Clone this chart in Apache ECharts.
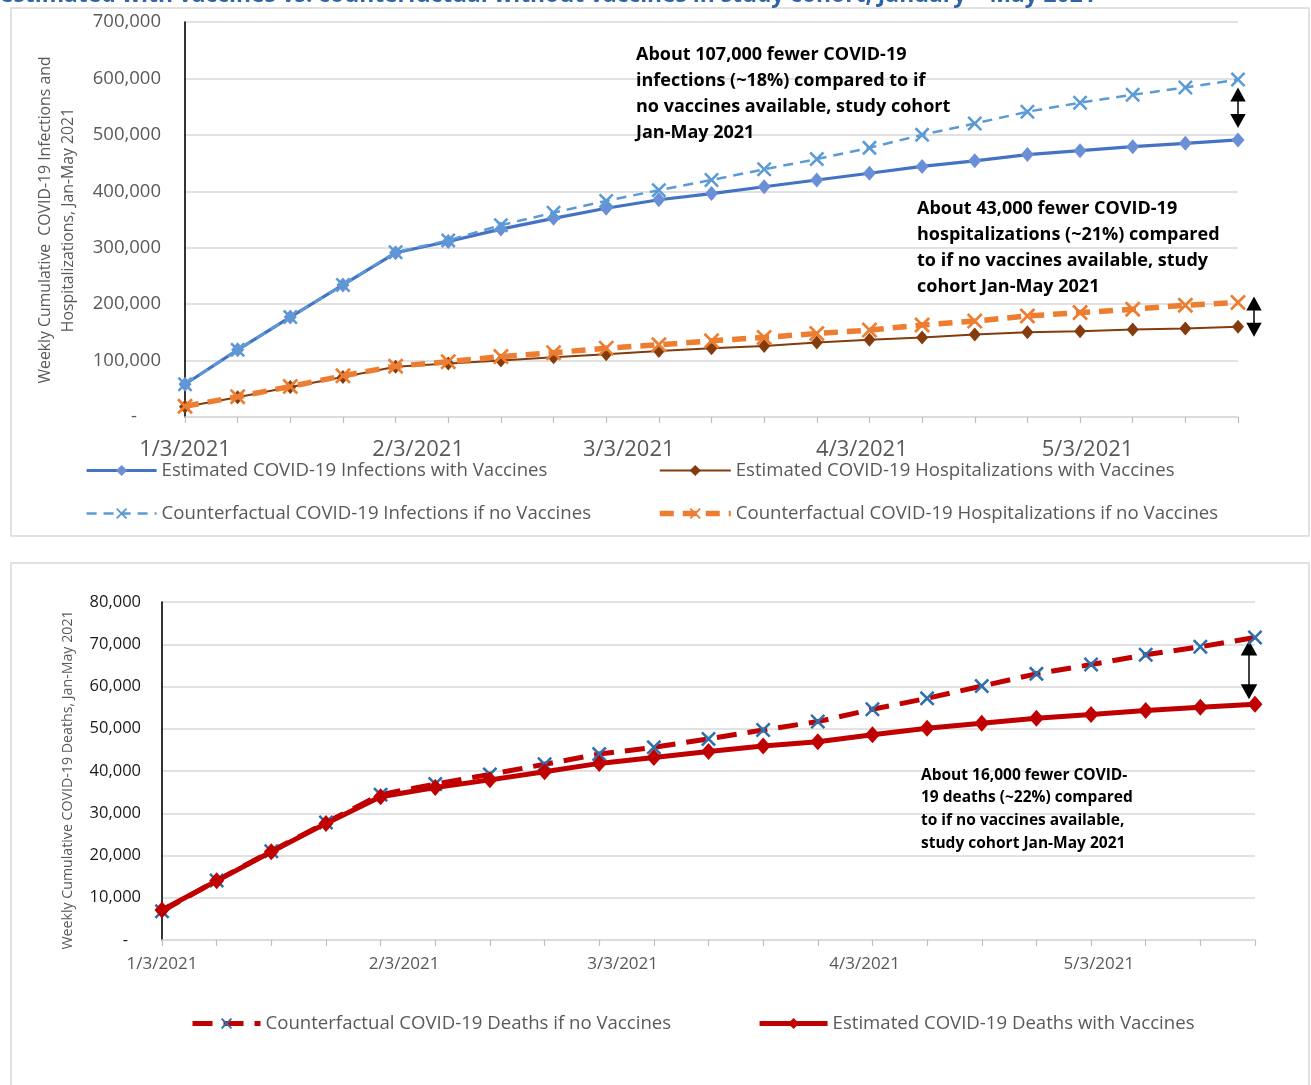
<!DOCTYPE html>
<html>
<head>
<meta charset="utf-8">
<script src="https://cdn.jsdelivr.net/npm/echarts@6/dist/echarts.min.js"></script>
<style>
  html, body { margin: 0; padding: 0; background: #ffffff; }
  #chart { width: 1311px; height: 1085px; }
</style>
</head>
<body>
<div id="chart"></div>
<script>
// Weekly dates of the study period
const weeks = ['2021-01-03','2021-01-10','2021-01-17','2021-01-24','2021-01-31','2021-02-07','2021-02-14',
  '2021-02-21','2021-02-28','2021-03-07','2021-03-14','2021-03-21','2021-03-28','2021-04-04',
  '2021-04-11','2021-04-18','2021-04-25','2021-05-02','2021-05-09','2021-05-16','2021-05-23'];
// Dates shown as axis labels
const monthLabels = ['2021-01-03','2021-02-03','2021-03-03','2021-04-03','2021-05-03'];

// Weekly cumulative infections / hospitalizations
const estInfections = [58000,119000,177000,234000,291000,311000,333000,352000,370000,385000,396000,
  408000,420000,432000,444000,454000,465000,472000,479000,485000,491000];
const cfInfections = [58000,119000,177000,234000,292000,313000,340000,362000,383000,402000,420000,
  439000,457000,477000,500000,520000,541000,557000,571000,584000,598000];
const estHosp = [18000,35000,53000,71000,89000,95000,100000,106000,111000,117000,122000,
  126000,132000,137000,141000,146000,150000,152000,155000,157000,160000];
const cfHosp = [19000,36000,54000,73000,90000,98000,107000,114000,122000,128000,135000,
  141000,148000,154000,163000,170000,179000,185000,191000,198000,203000];

// Weekly cumulative deaths
const cfDeaths = [6800,14100,21000,27800,34400,36900,39200,41600,44000,45600,47600,
  49700,51700,54600,57200,60100,63000,65200,67500,69400,71600];
const estDeaths = [7100,14000,20900,27600,33900,36100,37900,39800,41800,43200,44600,
  45900,46900,48600,50100,51300,52500,53400,54300,55100,55800];

// Tick labels
const yTicksTop = [0,100000,200000,300000,400000,500000,600000,700000];
const yTicksBottom = [0,10000,20000,30000,40000,50000,60000,70000,80000];

// Dates are placed on a day axis counted from the first week
const DAY = 86400000;
const toUTC = s => { const p = s.split('-').map(Number); return Date.UTC(p[0], p[1]-1, p[2]); };
const t0 = toUTC(weeks[0]);
const dayOf = s => Math.round((toUTC(s) - t0) / DAY);
const pairs = vals => weeks.map((d, i) => [dayOf(d), vals[i]]);
const fmtDay = v => { const d = new Date(t0 + v * DAY); return (d.getUTCMonth()+1) + '/' + d.getUTCDate() + '/' + d.getUTCFullYear(); };

const FONT = '"Open Sans", "Noto Sans", sans-serif';
const GREY = '#595959';
const GRID = '#d9d9d9';
const xSymbol = 'path://M0,1.2L1.2,0L5,3.8L8.8,0L10,1.2L6.2,5L10,8.8L8.8,10L5,6.2L1.2,10L0,8.8L3.8,5Z';

const weekDays = weeks.map(dayOf);
const labelDays = monthLabels.map(dayOf);

function xAxisDef(gridIndex, fontSize, margin) {
  return {
    type: 'value', gridIndex,
    min: weekDays[0], max: weekDays[weekDays.length - 1], interval: 7,
    axisLine: { show: true, onZero: false, lineStyle: { color: GRID, width: 1.5 } },
    axisTick: { show: true, customValues: weekDays, length: 6, lineStyle: { color: '#bfbfbf', width: 1.2 } },
    axisLabel: { customValues: labelDays, formatter: fmtDay, fontSize, color: GREY, fontFamily: FONT, margin,
      showMinLabel: true, showMaxLabel: true, hideOverlap: false },
    splitLine: { show: false }
  };
}
function yAxisDef(gridIndex, ticks, fontSize, color, margin, zero) {
  return {
    type: 'value', gridIndex, min: ticks[0], max: ticks[ticks.length - 1], interval: ticks[1] - ticks[0],
    axisLine: { show: true, onZero: false, lineStyle: { color: '#000', width: 1.6 } },
    axisTick: { show: false },
    axisLabel: { fontSize, color, fontFamily: FONT, margin,
      formatter: v => v === 0 ? zero : v.toLocaleString('en-US') },
    splitLine: { show: true, lineStyle: { color: GRID, width: 1.5 } }
  };
}

const legendText = { fontSize: 18.6, color: GREY, fontFamily: FONT };
const legendBase = { itemHeight: 14, textStyle: legendText, padding: 0,
  lineStyle: { width: 'inherit' }, itemStyle: { borderWidth: 0 } };

const option = {
  backgroundColor: '#ffffff',
  animation: false,
  grid: [
    { left: 185, top: 22, width: 1053, height: 395 },
    { left: 162, top: 602, width: 1093, height: 338 }
  ],
  xAxis: [ xAxisDef(0, 22, 22), xAxisDef(1, 17, 16) ],
  yAxis: [
    yAxisDef(0, yTicksTop, 18.5, GREY, 24, '-     '),
    yAxisDef(1, yTicksBottom, 16.5, '#1a1a1a', 21, '-   ')
  ],
  legend: [
    Object.assign({ orient: 'vertical', left: 85, top: 461, itemWidth: 70, itemGap: 24,
      data: ['Estimated COVID-19 Infections with Vaccines', 'Counterfactual COVID-19 Infections if no Vaccines'] }, legendBase),
    Object.assign({ orient: 'vertical', left: 657, top: 461, itemWidth: 71, itemGap: 24,
      data: ['Estimated COVID-19 Hospitalizations with Vaccines', 'Counterfactual COVID-19 Hospitalizations if no Vaccines'] }, legendBase),
    Object.assign({ orient: 'horizontal', left: 190, top: 1014, itemWidth: 68, itemGap: 86,
      data: ['Counterfactual COVID-19 Deaths if no Vaccines', 'Estimated COVID-19 Deaths with Vaccines'] }, legendBase)
  ],
  series: [
    { name: 'Estimated COVID-19 Infections with Vaccines', type: 'line', xAxisIndex: 0, yAxisIndex: 0,
      data: pairs(estInfections), symbol: 'diamond', symbolSize: [13, 15],
      lineStyle: { color: '#4472c4', width: 3.2 }, itemStyle: { color: '#6b8fd6' }, z: 2 },
    { name: 'Estimated COVID-19 Hospitalizations with Vaccines', type: 'line', xAxisIndex: 0, yAxisIndex: 0,
      data: pairs(estHosp), symbol: 'diamond', symbolSize: [12, 14],
      lineStyle: { color: '#843c0c', width: 2 }, itemStyle: { color: '#843c0c' }, z: 3 },
    { name: 'Counterfactual COVID-19 Infections if no Vaccines', type: 'line', xAxisIndex: 0, yAxisIndex: 0,
      data: pairs(cfInfections), symbol: xSymbol, symbolSize: 15,
      lineStyle: { color: '#5b9bd5', width: 2.5, type: [10, 7] }, itemStyle: { color: '#5b9bd5' }, z: 4 },
    { name: 'Counterfactual COVID-19 Hospitalizations if no Vaccines', type: 'line', xAxisIndex: 0, yAxisIndex: 0,
      data: pairs(cfHosp), symbol: xSymbol, symbolSize: 16,
      lineStyle: { color: '#ed7d31', width: 5.5, type: [14, 9] }, itemStyle: { color: '#ed7d31' }, z: 5 },
    { name: 'Counterfactual COVID-19 Deaths if no Vaccines', type: 'line', xAxisIndex: 1, yAxisIndex: 1,
      data: pairs(cfDeaths), symbol: xSymbol, symbolSize: 15,
      lineStyle: { color: '#c00000', width: 5, type: [20, 11] }, itemStyle: { color: '#2e6fae' }, z: 2 },
    { name: 'Estimated COVID-19 Deaths with Vaccines', type: 'line', xAxisIndex: 1, yAxisIndex: 1,
      data: pairs(estDeaths), symbol: 'diamond', symbolSize: [15, 17],
      lineStyle: { color: '#c00000', width: 5 }, itemStyle: { color: '#c00000' }, z: 3 }
  ]
};

const chart = echarts.init(document.getElementById('chart'), null, { renderer: 'canvas' });
chart.setOption(option);

// Double-headed arrow between two pixel y-positions
function arrow(x, y1, y2, head) {
  const w = head * 0.55;
  return {
    type: 'group', z: 50,
    children: [
      { type: 'line', shape: { x1: x, y1: y1 + head * 0.8, x2: x, y2: y2 - head * 0.8 },
        style: { stroke: '#000', lineWidth: 1.5 } },
      { type: 'polygon', shape: { points: [[x, y1], [x - w, y1 + head], [x + w, y1 + head]] }, style: { fill: '#000' } },
      { type: 'polygon', shape: { points: [[x, y2], [x - w, y2 - head], [x + w, y2 - head]] }, style: { fill: '#000' } }
    ]
  };
}

const last = weeks.length - 1;
const lastX = weekDays[last];
const pInfCf = chart.convertToPixel({ gridIndex: 0 }, [lastX, cfInfections[last]]);
const pInfEst = chart.convertToPixel({ gridIndex: 0 }, [lastX, estInfections[last]]);
const pHospCf = chart.convertToPixel({ gridIndex: 0 }, [lastX, cfHosp[last]]);
const pHospEst = chart.convertToPixel({ gridIndex: 0 }, [lastX, estHosp[last]]);
const pDCf = chart.convertToPixel({ gridIndex: 1 }, [lastX, cfDeaths[last]]);
const pDEst = chart.convertToPixel({ gridIndex: 1 }, [lastX, estDeaths[last]]);

const boldText = (x, y, text, size, lh) => ({
  type: 'text', x, y, z: 40,
  style: { text, fontFamily: FONT, fontWeight: 'bold', fontSize: size, lineHeight: lh, fill: '#000' }
});

chart.setOption({
  graphic: [
    // panel frames
    { type: 'rect', shape: { x: 11, y: 8, width: 1298, height: 528 }, style: { fill: 'none', stroke: GRID, lineWidth: 1.5 }, z: -10 },
    { type: 'rect', shape: { x: 11, y: 563, width: 1298, height: 560 }, style: { fill: 'none', stroke: GRID, lineWidth: 1.5 }, z: -10 },
    // heading above the first panel
    { type: 'text', x: 0, y: 7, z: 40,
      style: { text: 'estimated with vaccines vs. counterfactual without vaccines in study cohort, January \u2013 May 2021',
        fontFamily: FONT, fontWeight: 'bold', fontSize: 22.8, fill: '#2f64a8', verticalAlign: 'bottom' } },
    // axis titles
    { type: 'text', x: 57, y: 220, rotation: Math.PI / 2, z: 40,
      style: { text: 'Weekly Cumulative  COVID-19 Infections and\nHospitalizations, Jan-May 2021',
        fontFamily: FONT, fontSize: 15.8, lineHeight: 23, fill: GREY, align: 'center', verticalAlign: 'middle' } },
    { type: 'text', x: 68, y: 780, rotation: Math.PI / 2, z: 40,
      style: { text: 'Weekly Cumulative COVID-19 Deaths, Jan-May 2021',
        fontFamily: FONT, fontSize: 14.2, fill: GREY, align: 'center', verticalAlign: 'middle' } },
    // annotations
    boldText(636, 42, 'About 107,000 fewer COVID-19\ninfections (~18%) compared to if\nno vaccines available, study cohort\nJan-May 2021', 18, 26),
    boldText(917, 196, 'About 43,000 fewer COVID-19\nhospitalizations (~21%) compared\nto if no vaccines available, study\ncohort Jan-May 2021', 18, 26),
    boldText(921, 764, 'About 16,000 fewer COVID-\n19 deaths (~22%) compared\nto if no vaccines available,\nstudy cohort Jan-May 2021', 15.5, 22.7),
    // gap arrows at the final week
    arrow(pInfCf[0], pInfCf[1] + 8, pInfEst[1] - 12, 14),
    arrow(pHospCf[0] + 16, pHospCf[1] - 6, pHospEst[1] + 10, 14),
    arrow(pDCf[0] - 6, pDCf[1] + 3, pDEst[1] - 5, 15)
  ]
});
</script>
</body>
</html>
